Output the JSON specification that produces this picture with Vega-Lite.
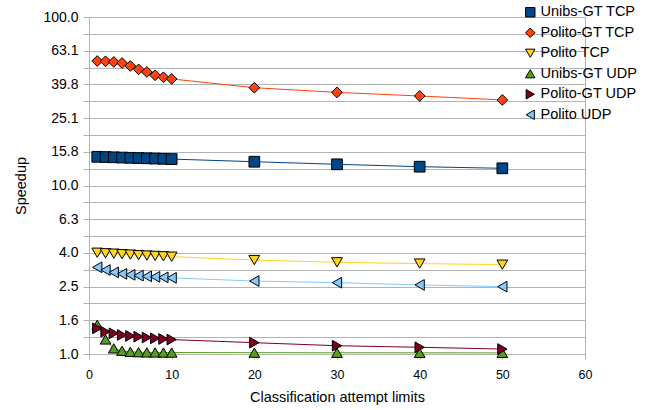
{
  "$schema": "https://vega.github.io/schema/vega-lite/v6.json",
  "width": 496,
  "height": 337,
  "autosize": "none",
  "padding": {"left": 89, "top": 17, "right": 69, "bottom": 56},
  "background": "white",
  "config": {
    "font": "Liberation Sans",
    "view": {"stroke": "#b3b3b3", "strokeWidth": 1},
    "axis": {"labelColor": "#000000", "titleColor": "#000000", "titleFontWeight": "normal", "domainColor": "#b3b3b3", "tickColor": "#b3b3b3", "gridColor": "#b3b3b3", "gridOpacity": 1}
  },
  "data": {
    "values": [
      {"x": 1, "s": "Unibs-GT TCP", "v": 14.8},
      {"x": 2, "s": "Unibs-GT TCP", "v": 14.75},
      {"x": 3, "s": "Unibs-GT TCP", "v": 14.7},
      {"x": 4, "s": "Unibs-GT TCP", "v": 14.65},
      {"x": 5, "s": "Unibs-GT TCP", "v": 14.6},
      {"x": 6, "s": "Unibs-GT TCP", "v": 14.55},
      {"x": 7, "s": "Unibs-GT TCP", "v": 14.5},
      {"x": 8, "s": "Unibs-GT TCP", "v": 14.45},
      {"x": 9, "s": "Unibs-GT TCP", "v": 14.4},
      {"x": 10, "s": "Unibs-GT TCP", "v": 14.35},
      {"x": 20, "s": "Unibs-GT TCP", "v": 13.84},
      {"x": 30, "s": "Unibs-GT TCP", "v": 13.36},
      {"x": 40, "s": "Unibs-GT TCP", "v": 12.93},
      {"x": 50, "s": "Unibs-GT TCP", "v": 12.65},
      {"x": 1, "s": "Polito-GT TCP", "v": 54.8},
      {"x": 2, "s": "Polito-GT TCP", "v": 54.6},
      {"x": 3, "s": "Polito-GT TCP", "v": 54.1},
      {"x": 4, "s": "Polito-GT TCP", "v": 53.3},
      {"x": 5, "s": "Polito-GT TCP", "v": 51.2},
      {"x": 6, "s": "Polito-GT TCP", "v": 48.9},
      {"x": 7, "s": "Polito-GT TCP", "v": 47.2},
      {"x": 8, "s": "Polito-GT TCP", "v": 45.1},
      {"x": 9, "s": "Polito-GT TCP", "v": 43.9},
      {"x": 10, "s": "Polito-GT TCP", "v": 42.9},
      {"x": 20, "s": "Polito-GT TCP", "v": 38.05},
      {"x": 30, "s": "Polito-GT TCP", "v": 35.7},
      {"x": 40, "s": "Polito-GT TCP", "v": 33.98},
      {"x": 50, "s": "Polito-GT TCP", "v": 32.2},
      {"x": 1, "s": "Polito TCP", "v": 3.99},
      {"x": 2, "s": "Polito TCP", "v": 3.96},
      {"x": 3, "s": "Polito TCP", "v": 3.94},
      {"x": 4, "s": "Polito TCP", "v": 3.91},
      {"x": 5, "s": "Polito TCP", "v": 3.89},
      {"x": 6, "s": "Polito TCP", "v": 3.86},
      {"x": 7, "s": "Polito TCP", "v": 3.84},
      {"x": 8, "s": "Polito TCP", "v": 3.82},
      {"x": 9, "s": "Polito TCP", "v": 3.8},
      {"x": 10, "s": "Polito TCP", "v": 3.78},
      {"x": 20, "s": "Polito TCP", "v": 3.61},
      {"x": 30, "s": "Polito TCP", "v": 3.5},
      {"x": 40, "s": "Polito TCP", "v": 3.44},
      {"x": 50, "s": "Polito TCP", "v": 3.39},
      {"x": 1, "s": "Unibs-GT UDP", "v": 1.49},
      {"x": 2, "s": "Unibs-GT UDP", "v": 1.22},
      {"x": 3, "s": "Unibs-GT UDP", "v": 1.08},
      {"x": 4, "s": "Unibs-GT UDP", "v": 1.045},
      {"x": 5, "s": "Unibs-GT UDP", "v": 1.03},
      {"x": 6, "s": "Unibs-GT UDP", "v": 1.025},
      {"x": 7, "s": "Unibs-GT UDP", "v": 1.022},
      {"x": 8, "s": "Unibs-GT UDP", "v": 1.021},
      {"x": 9, "s": "Unibs-GT UDP", "v": 1.02},
      {"x": 10, "s": "Unibs-GT UDP", "v": 1.02},
      {"x": 20, "s": "Unibs-GT UDP", "v": 1.018},
      {"x": 30, "s": "Unibs-GT UDP", "v": 1.017},
      {"x": 40, "s": "Unibs-GT UDP", "v": 1.016},
      {"x": 50, "s": "Unibs-GT UDP", "v": 1.015},
      {"x": 1, "s": "Polito-GT UDP", "v": 1.42},
      {"x": 2, "s": "Polito-GT UDP", "v": 1.356},
      {"x": 3, "s": "Polito-GT UDP", "v": 1.327},
      {"x": 4, "s": "Polito-GT UDP", "v": 1.297},
      {"x": 5, "s": "Polito-GT UDP", "v": 1.28},
      {"x": 6, "s": "Polito-GT UDP", "v": 1.267},
      {"x": 7, "s": "Polito-GT UDP", "v": 1.253},
      {"x": 8, "s": "Polito-GT UDP", "v": 1.239},
      {"x": 9, "s": "Polito-GT UDP", "v": 1.228},
      {"x": 10, "s": "Polito-GT UDP", "v": 1.218},
      {"x": 20, "s": "Polito-GT UDP", "v": 1.167},
      {"x": 30, "s": "Polito-GT UDP", "v": 1.12},
      {"x": 40, "s": "Polito-GT UDP", "v": 1.096},
      {"x": 50, "s": "Polito-GT UDP", "v": 1.07},
      {"x": 1, "s": "Polito UDP", "v": 3.27},
      {"x": 2, "s": "Polito UDP", "v": 3.15},
      {"x": 3, "s": "Polito UDP", "v": 3.05},
      {"x": 4, "s": "Polito UDP", "v": 2.99},
      {"x": 5, "s": "Polito UDP", "v": 2.95},
      {"x": 6, "s": "Polito UDP", "v": 2.92},
      {"x": 7, "s": "Polito UDP", "v": 2.89},
      {"x": 8, "s": "Polito UDP", "v": 2.87},
      {"x": 9, "s": "Polito UDP", "v": 2.85},
      {"x": 10, "s": "Polito UDP", "v": 2.83},
      {"x": 20, "s": "Polito UDP", "v": 2.71},
      {"x": 30, "s": "Polito UDP", "v": 2.65},
      {"x": 40, "s": "Polito UDP", "v": 2.57},
      {"x": 50, "s": "Polito UDP", "v": 2.51}
    ]
  },
  "encoding": {
    "x": {
      "field": "x", "type": "quantitative",
      "scale": {"domain": [0, 60], "nice": false, "zero": false},
      "axis": {"title": "Classification attempt limits", "values": [0, 10, 20, 30, 40, 50, 60], "grid": false, "labelFontSize": 12.5, "labelFlush": false, "tickSize": 5, "labelPadding": 9, "titleFontSize": 14.5, "titlePadding": 10}
    },
    "y": {
      "field": "v", "type": "quantitative",
      "scale": {"type": "log", "domain": [1, 100], "nice": false},
      "axis": {
        "title": "Speedup",
        "values": [1, 1.2589, 1.5849, 1.9953, 2.5119, 3.1623, 3.9811, 5.0119, 6.3096, 7.9433, 10, 12.589, 15.849, 19.953, 25.119, 31.623, 39.811, 50.119, 63.096, 79.433, 100],
        "labelExpr": "abs(log(datum.value)/LN10*5 - round(log(datum.value)/LN10*5)) < 0.01 ? format(datum.value, '.1f') : ''",
        "labelFontSize": 14, "tickSize": 6, "labelPadding": 5, "labelFlush": false,
        "titleFontSize": 14.5, "titlePadding": 14
      }
    }
  },
  "layer": [
    {
      "mark": {"type": "line", "strokeWidth": 1},
      "encoding": {
        "stroke": {
          "field": "s", "type": "nominal",
          "scale": {
            "domain": ["Polito UDP", "Polito-GT UDP", "Unibs-GT UDP", "Polito TCP", "Polito-GT TCP", "Unibs-GT TCP"],
            "range": ["#83caff", "#7e0021", "#579d1c", "#ffd320", "#ff420e", "#004586"]
          },
          "legend": null
        }
      }
    },
    {
      "mark": {"type": "point", "filled": true, "opacity": 1, "stroke": "#000000", "strokeWidth": 1, "size": 115},
      "encoding": {
        "fill": {
          "field": "s", "type": "nominal",
          "scale": {
            "domain": ["Unibs-GT TCP", "Polito-GT TCP", "Polito TCP", "Unibs-GT UDP", "Polito-GT UDP", "Polito UDP"],
            "range": ["#004586", "#ff420e", "#ffd320", "#579d1c", "#7e0021", "#83caff"]
          },
          "legend": {
            "title": null, "orient": "none", "legendX": 434, "legendY": -12,
            "labelFontSize": 14.5, "labelColor": "#000000", "labelOffset": 3, "rowPadding": 5.5,
            "symbolSize": 90, "symbolStrokeColor": "#000000", "symbolStrokeWidth": 1
          }
        },
        "shape": {
          "field": "s", "type": "nominal",
          "scale": {
            "domain": ["Unibs-GT TCP", "Polito-GT TCP", "Polito TCP", "Unibs-GT UDP", "Polito-GT UDP", "Polito UDP"],
            "range": ["square", "diamond", "triangle-down", "triangle-up", "triangle-right", "triangle-left"]
          }
        }
      }
    }
  ]
}
